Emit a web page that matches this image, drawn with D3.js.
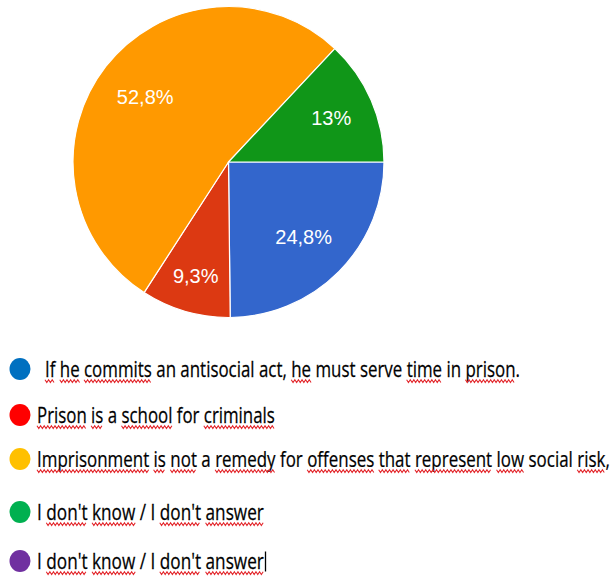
<!DOCTYPE html>
<html>
<head>
<meta charset="utf-8">
<script src="https://cdn.jsdelivr.net/npm/d3@7"></script>
<style>
  html, body { margin: 0; padding: 0; background: #ffffff; }
  svg { display: block; }
</style>
</head>
<body>
<svg id="chart" width="613" height="579"></svg>
<script>
// ---------- data ----------
const categories = [
  "If he commits an antisocial act, he must serve time in prison.",
  "Prison is a school for criminals",
  "Imprisonment is not a remedy for offenses that represent low social risk,",
  "I don't know / I don't answer"
];
const values = [24.8, 9.3, 52.8, 13];
const sliceLabels = ["24,8%", "9,3%", "52,8%", "13%"];

const legendLabels = [
  "If he commits an antisocial act, he must serve time in prison.",
  "Prison is a school for criminals",
  "Imprisonment is not a remedy for offenses that represent low social risk,",
  "I don't know / I don't answer",
  "I don't know / I don't answer"
];
const underlinedWords = [
  ["If", "he", "commits", "he", "time", "prison"],
  ["Prison", "is", "school", "criminals"],
  ["Imprisonment", "is", "not", "remedy", "offenses", "that", "represent", "low", "risk"],
  ["don't", "know", "don't", "answer"],
  ["don't", "know", "don't", "answer"]
];

// ---------- styles / layout ----------
const sliceColors = ["#3366cc", "#dc3912", "#ff9900", "#109618"];
const legendColors = ["#0070c0", "#ff0000", "#ffc000", "#00b050", "#7030a0"];
const legendRows = [
  { cy: 369, x: 45, w: 475 },
  { cy: 415, x: 37, w: 238 },
  { cy: 459, x: 37, w: 573 },
  { cy: 512, x: 37, w: 227 },
  { cy: 561, x: 37, w: 227 }
];

const svg = d3.select("#chart");
const cx = 228.5, cy = 162, R = 155.5;

// ---------- pie ----------
const pie = d3.pie().sort(null).value(d => d)
  .startAngle(Math.PI / 2).endAngle(Math.PI / 2 + 2 * Math.PI);
const arcs = pie(values);
const arc = d3.arc().innerRadius(0).outerRadius(R);

const gPie = svg.append("g").attr("transform", `translate(${cx},${cy})`);
gPie.selectAll("path.slice").data(arcs).join("path")
  .attr("class", "slice")
  .attr("d", arc)
  .attr("fill", (d, i) => sliceColors[i])
  .attr("stroke", "#ffffff")
  .attr("stroke-width", 1.2);

gPie.selectAll("text.lbl").data(arcs).join("text")
  .attr("class", "lbl")
  .attr("transform", d => {
    const span = d.endAngle - d.startAngle;
    const deg = span * 180 / Math.PI;
    const k = 0.68 + 0.09 * Math.max(0, (60 - deg) / 30);
    const a = (d.startAngle + d.endAngle) / 2;
    const r = R * k;
    return `translate(${Math.sin(a) * r},${-Math.cos(a) * r})`;
  })
  .attr("text-anchor", "middle")
  .attr("dy", "0.36em")
  .attr("fill", "#ffffff")
  .attr("font-family", "'Liberation Sans', Arial, sans-serif")
  .attr("font-size", 20)
  .text((d, i) => sliceLabels[i]);

// ---------- legend ----------
const gLeg = svg.append("g");
legendLabels.forEach((label, i) => {
  const row = legendRows[i];
  gLeg.append("ellipse")
    .attr("cx", 20).attr("cy", row.cy)
    .attr("rx", 10.5).attr("ry", 11)
    .attr("fill", legendColors[i]);

  const baseY = row.cy + 7.5;
  const g = gLeg.append("g").attr("transform", `translate(${row.x},${baseY})`);
  const t = g.append("text")
    .attr("x", 0).attr("y", 0)
    .attr("font-family", "'Open Sans', Calibri, sans-serif")
    .attr("font-size", 22)
    .attr("fill", "#000000")
    .attr("stroke", "#000000")
    .attr("stroke-width", 0.25)
    .text(label);
  const natural = t.node().getComputedTextLength();
  const sx = row.w / natural;
  t.attr("transform", `scale(${sx},1)`);

  // wavy spell-check underlines
  let from = 0;
  underlinedWords[i].forEach(word => {
    let idx = label.indexOf(word, from);
    if (idx < 0) return;
    from = idx + word.length;
    const start = t.node().getSubStringLength(0, idx) * sx;
    const len = t.node().getSubStringLength(idx, word.length) * sx;
    const pts = [];
    const step = 1.8;
    let k = 0;
    for (let x = start; x <= start + len + 0.01; x += step, k++) {
      pts.push([x, (k % 2 === 0) ? 3.2 : 6]);
    }
    g.append("path")
      .attr("d", d3.line()(pts))
      .attr("fill", "none")
      .attr("stroke", "#e3262b")
      .attr("stroke-width", 1.1);
  });

  if (i === legendLabels.length - 1) {
    g.append("line")
      .attr("x1", row.w + 1.5).attr("x2", row.w + 1.5)
      .attr("y1", -17).attr("y2", 3)
      .attr("stroke", "#000000").attr("stroke-width", 1.3);
  }
});
</script>
</body>
</html>
